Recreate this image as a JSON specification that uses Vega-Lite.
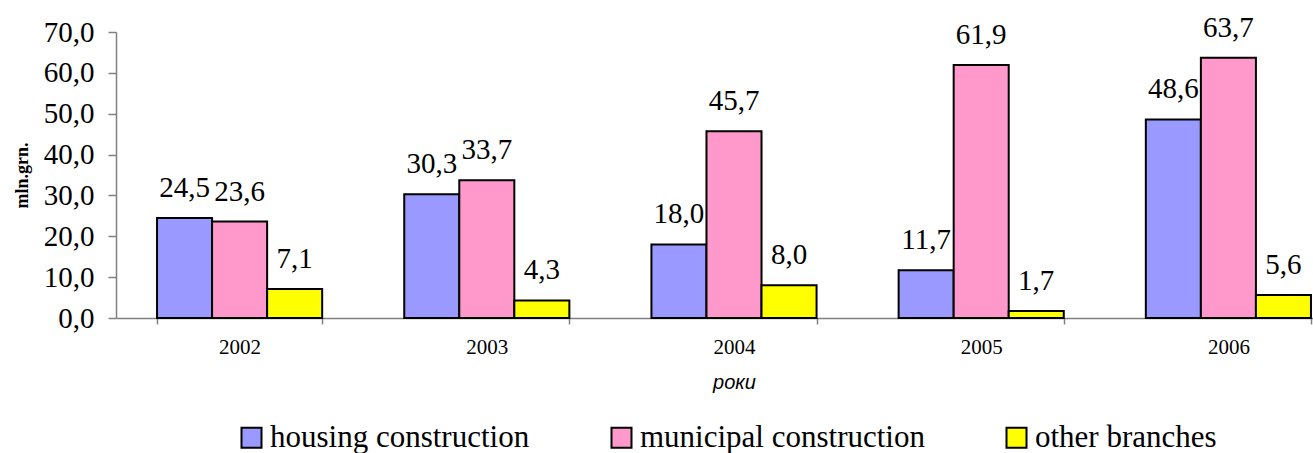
{
  "$schema": "https://vega.github.io/schema/vega-lite/v6.json",
  "width": 1236,
  "height": 286,
  "autosize": {"type": "none"},
  "padding": {"left": 116, "top": 32, "right": 0, "bottom": 135},
  "background": "white",
  "config": {
    "view": {"stroke": null},
    "locale": {"number": {"decimal": ",", "thousands": " ", "grouping": [3], "currency": ["", ""]}},
    "font": "Times New Roman, Liberation Serif, serif"
  },
  "data": {
    "values": [
      {"year": "2002", "series": "housing construction", "value": 24.5},
      {"year": "2002", "series": "municipal construction", "value": 23.6},
      {"year": "2002", "series": "other branches", "value": 7.1},
      {"year": "2003", "series": "housing construction", "value": 30.3},
      {"year": "2003", "series": "municipal construction", "value": 33.7},
      {"year": "2003", "series": "other branches", "value": 4.3},
      {"year": "2004", "series": "housing construction", "value": 18.0},
      {"year": "2004", "series": "municipal construction", "value": 45.7},
      {"year": "2004", "series": "other branches", "value": 8.0},
      {"year": "2005", "series": "housing construction", "value": 11.7},
      {"year": "2005", "series": "municipal construction", "value": 61.9},
      {"year": "2005", "series": "other branches", "value": 1.7},
      {"year": "2006", "series": "housing construction", "value": 48.6},
      {"year": "2006", "series": "municipal construction", "value": 63.7},
      {"year": "2006", "series": "other branches", "value": 5.6}
    ]
  },
  "encoding": {
    "x": {
      "field": "year", "type": "nominal",
      "scale": {"paddingInner": 0.332, "paddingOuter": 0.166},
      "axis": {
        "title": "роки",
        "titleFont": "Liberation Sans", "titleFontStyle": "italic", "titleFontWeight": "normal",
        "titleFontSize": 20, "titleColor": "black", "titlePadding": 15,
        "labelAngle": 0, "labelFont": "Times New Roman, Liberation Serif, serif", "labelFontSize": 21, "labelColor": "black",
        "labelPadding": 12,
        "tickBand": "extent", "tickSize": 6, "tickColor": "#808080", "tickWidth": 1.5,
        "domainColor": "#808080", "domainWidth": 1.5
      }
    },
    "xOffset": {
      "field": "series", "type": "nominal",
      "scale": {"paddingInner": 0, "paddingOuter": 0, "domain": ["housing construction", "municipal construction", "other branches"]}
    },
    "y": {
      "field": "value", "type": "quantitative",
      "scale": {"domain": [0, 70], "nice": false},
      "axis": {
        "title": "mln.grn.",
        "titleFont": "Times New Roman, Liberation Serif, serif", "titleFontWeight": "bold", "titleFontSize": 18, "titleColor": "black",
        "titlePadding": 12,
        "values": [0, 10, 20, 30, 40, 50, 60, 70],
        "format": ".1f",
        "labelFont": "Times New Roman, Liberation Serif, serif", "labelFontSize": 29, "labelColor": "black",
        "labelPadding": 14,
        "tickSize": 8, "tickColor": "#808080", "tickWidth": 1.5,
        "domainColor": "#808080", "domainWidth": 1.5,
        "grid": false
      }
    }
  },
  "layer": [
    {
      "mark": {"type": "bar", "stroke": "black", "strokeWidth": 2},
      "encoding": {
        "color": {
          "field": "series", "type": "nominal",
          "scale": {
            "domain": ["housing construction", "municipal construction", "other branches"],
            "range": ["#9999FF", "#FF99CC", "#FFFF00"]
          },
          "legend": {
            "title": null,
            "orient": "none",
            "legendX": 120,
            "legendY": 390,
            "direction": "horizontal",
            "symbolType": "square",
            "symbolSize": 400,
            "symbolStrokeColor": "black",
            "symbolStrokeWidth": 2,
            "symbolOpacity": 1,
            "labelFont": "Times New Roman, Liberation Serif, serif",
            "labelFontSize": 31,
            "labelColor": "black",
            "labelOffset": 3,
            "columnPadding": 76,
            "labelLimit": 0
          }
        }
      }
    },
    {
      "mark": {"type": "text", "baseline": "alphabetic", "dy": -21, "font": "Times New Roman, Liberation Serif, serif", "fontSize": 29, "color": "black"},
      "encoding": {
        "text": {"field": "value", "type": "quantitative", "format": ".1f"}
      }
    }
  ]
}
